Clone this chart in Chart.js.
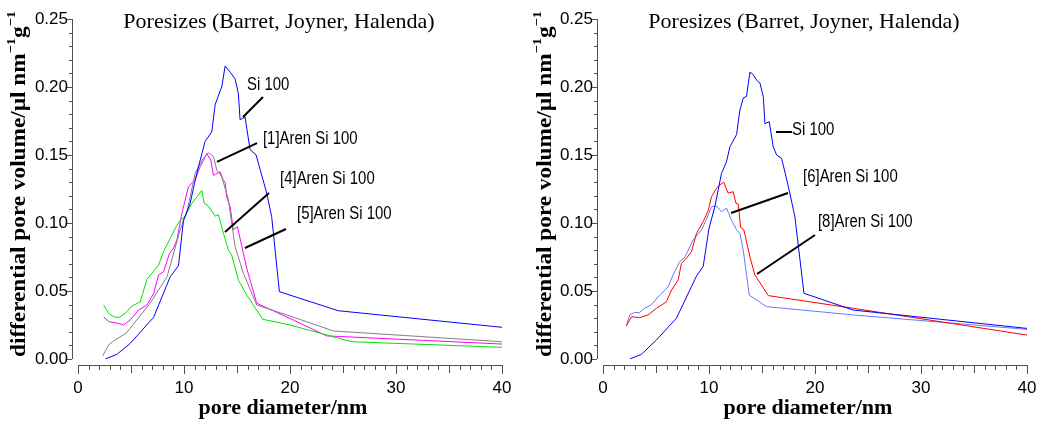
<!DOCTYPE html>
<html>
<head>
<meta charset="utf-8">
<script src="https://cdn.jsdelivr.net/npm/chart.js@4/dist/chart.umd.min.js"></script>
<style>
  body { margin: 0; background: #fff; }
  .box { position: absolute; top: 0; width: 526px; height: 423px; }
</style>
</head>
<body>
<div class="box" style="left:0"><canvas id="leftChart" width="526" height="423"></canvas></div>
<div class="box" style="left:526px"><canvas id="rightChart" width="526" height="423"></canvas></div>
<script>
// axis ticks
const xTickLabels = ['0', '10', '20', '30', '40'];
const yTickLabels = ['0.00', '0.05', '0.10', '0.15', '0.20', '0.25'];

// left panel
const leftSiX = [2.57,3.67,4.93,7.13,8.7,9.48,9.95,10.58,11.2,11.99,12.62,12.94,13.4,13.56,13.88,14.35,14.82,15.13,15.29,15.76,16.23,16.8,17.8,18.27,19.0,24.55,40];
const leftSiY = [0,0.0034,0.0115,0.0306,0.0605,0.0686,0.102,0.1145,0.1365,0.16,0.167,0.187,0.197,0.2,0.2154,0.211,0.206,0.195,0.176,0.178,0.154,0.15,0.122,0.1047,0.0495,0.0355,0.0233];

const aren1X = [2.32,2.89,3.5,4.55,6.8,8.4,9.64,10.27,11.05,11.68,12.3,12.78,13.09,13.56,14.19,14.82,15.6,16.86,20,24.1,40];
const aren1Y = [0.0022,0.0103,0.014,0.019,0.041,0.0605,0.095,0.108,0.1365,0.146,0.1517,0.149,0.139,0.134,0.117,0.0826,0.063,0.0397,0.0316,0.0206,0.0127];

const aren5X = [2.42,2.89,3.83,4.3,4.93,5.71,6.5,7.13,7.6,8.07,8.63,9.0,9.33,9.8,10.42,11.05,11.52,12.15,12.53,12.78,13.4,13.7,13.88,14.03,14.35,14.66,15.04,15.92,16.86,20.3,23.45,40];
const aren5Y = [0.0311,0.0275,0.0262,0.025,0.0287,0.036,0.0397,0.048,0.0618,0.0642,0.0777,0.0814,0.0875,0.107,0.1267,0.1316,0.1414,0.151,0.1463,0.135,0.1377,0.1316,0.13,0.119,0.112,0.095,0.0973,0.0667,0.041,0.0287,0.017,0.011];

const aren4X = [2.42,2.89,3.36,3.83,4.46,5.1,5.87,6.5,7.6,8.07,8.7,9.26,9.64,10.1,10.74,11.2,11.68,11.9,12.3,12.94,13.25,13.72,14.19,14.5,15.13,15.92,17.43,20,25.8,40];
const aren4Y = [0.0397,0.0336,0.0311,0.0304,0.0336,0.039,0.042,0.0586,0.069,0.079,0.0887,0.0973,0.102,0.1047,0.1145,0.119,0.124,0.1145,0.1125,0.105,0.106,0.0924,0.08,0.0765,0.058,0.047,0.0292,0.025,0.0127,0.0086];

// right panel
const rightSiX = [2.52,3.62,5.04,6.93,8.82,9.45,10.0,10.55,11.18,11.65,11.97,12.6,12.91,13.23,13.54,13.86,14.17,14.49,14.8,15.12,15.28,15.68,16.06,16.38,16.85,17.48,18.1,18.96,23.6,40];
const rightSiY = [0,0.0034,0.014,0.03,0.061,0.068,0.096,0.112,0.1365,0.145,0.156,0.165,0.183,0.192,0.193,0.211,0.209,0.205,0.203,0.193,0.173,0.1745,0.156,0.15,0.1475,0.127,0.1047,0.0483,0.036,0.0225];

const aren8X = [2.2,2.68,3.46,4.25,5.04,5.98,6.46,7.09,7.4,7.87,8.35,8.82,9.45,9.92,10.24,10.71,11.02,11.4,11.8,12.28,12.54,12.76,12.98,13.29,13.86,14.33,15.6,23.6,40];
const aren8Y = [0.0243,0.0311,0.0304,0.0324,0.0373,0.042,0.0507,0.058,0.0703,0.074,0.079,0.0924,0.101,0.109,0.1194,0.1255,0.128,0.13,0.122,0.123,0.1145,0.114,0.0968,0.095,0.0752,0.0618,0.0466,0.0373,0.0176];

const aren6X = [2.2,2.52,3.0,3.4,3.94,4.57,5.35,6.14,6.61,7.24,7.72,8.5,9.29,9.76,10.24,10.71,11.18,11.65,12.13,12.6,12.91,13.23,13.8,15.43,23.6,40];
const aren6Y = [0.0243,0.0324,0.0343,0.034,0.0373,0.04,0.047,0.053,0.0618,0.0716,0.0748,0.0875,0.0949,0.1027,0.112,0.1125,0.1083,0.111,0.102,0.095,0.0924,0.08,0.047,0.0385,0.0324,0.0218];

// callouts: text, text anchor, line start, line end (data units)
const leftNotes = [
  ['Si 100', 15.94, 0.2015, 17.45, 0.1926, 15.57, 0.1779],
  ['[1]Aren Si 100', 17.45, 0.1618, 16.89, 0.1588, 13.11, 0.1449],
  ['[4]Aren Si 100', 19.06, 0.1324, 18.02, 0.1221, 13.87, 0.0934],
  ['[5]Aren Si 100', 20.66, 0.1066, 19.62, 0.0956, 15.75, 0.0816]
];
const rightNotes = [
  ['Si 100', 17.83, 0.1684, 16.32, 0.1669, 17.83, 0.1669],
  ['[6]Aren Si 100', 18.87, 0.1338, 17.45, 0.1221, 12.08, 0.1074],
  ['[8]Aren Si 100', 20.28, 0.1007, 20.0, 0.0912, 14.53, 0.0625]
];

function pts(xs, ys) {
  return xs.map((x, i) => ({ x: x, y: ys[i] }));
}
function series(xs, ys, color) {
  return { data: pts(xs, ys), borderColor: color, borderWidth: 1, pointRadius: 0, tension: 0, fill: false };
}

const axesPlugin = {
  id: 'oldAxes',
  afterDraw(chart) {
    const ctx = chart.ctx;
    const xs = chart.scales.x, ys = chart.scales.y;
    const opt = chart.options.plugins.oldAxes;
    const axX = xs.getPixelForValue(0) - 6;
    const axY = ys.getPixelForValue(0) + 6;
    ctx.save();
    ctx.strokeStyle = '#505050';
    ctx.lineWidth = 1;
    ctx.beginPath();
    ctx.moveTo(axX + 0.5, ys.getPixelForValue(0));
    ctx.lineTo(axX + 0.5, ys.getPixelForValue(0.25));
    ctx.moveTo(xs.getPixelForValue(0), axY + 0.5);
    ctx.lineTo(xs.getPixelForValue(40), axY + 0.5);
    for (let i = 0; i <= 25; i++) {
      const py = Math.round(ys.getPixelForValue(i / 100)) + 0.5;
      ctx.moveTo(axX, py);
      ctx.lineTo(axX - (i % 5 === 0 ? 5 : 3), py);
    }
    for (let i = 0; i <= 40; i++) {
      const px = Math.round(xs.getPixelForValue(i)) + 0.5;
      ctx.moveTo(px, axY);
      ctx.lineTo(px, axY + (i % 10 === 0 ? 9 : (i % 5 === 0 ? 8 : 5)));
    }
    ctx.stroke();

    ctx.fillStyle = '#000';
    ctx.font = '17px "Liberation Sans", Arial, sans-serif';
    ctx.textAlign = 'right';
    ctx.textBaseline = 'middle';
    yTickLabels.forEach((t) => ctx.fillText(t, axX - 4, ys.getPixelForValue(parseFloat(t))));
    ctx.textAlign = 'center';
    xTickLabels.forEach((t) => ctx.fillText(t, xs.getPixelForValue(parseFloat(t)), 388));

    ctx.font = '22px "Liberation Serif", "Times New Roman", serif';
    ctx.fillText('Poresizes (Barret, Joyner, Halenda)', opt.titleX, 22);
    ctx.font = 'bold 22px "Liberation Serif", "Times New Roman", serif';
    ctx.fillText('pore diameter/nm', opt.xTitleX, 408);

    // rotated y title with superscripts, stretched to the reference length
    ctx.translate(20, 184);
    ctx.rotate(-Math.PI / 2);
    const big = 'bold 21px "Liberation Serif", "Times New Roman", serif';
    const sup = 'bold 13px "Liberation Serif", "Times New Roman", serif';
    const parts = [['differential pore volume/\u00b5l nm', big, 0], ['\u22121', sup, -8], ['g', big, 0], ['\u22121', sup, -8]];
    let total = 0;
    parts.forEach((p) => { ctx.font = p[1]; total += ctx.measureText(p[0]).width; });
    ctx.scale(346 / total, 1);
    let cx = -total / 2;
    ctx.textAlign = 'left';
    parts.forEach((p) => {
      ctx.font = p[1];
      ctx.fillText(p[0], cx, p[2]);
      cx += ctx.measureText(p[0]).width;
    });
    ctx.restore();

    // callouts
    ctx.save();
    ctx.strokeStyle = '#000';
    ctx.lineWidth = 2;
    ctx.fillStyle = '#000';
    ctx.font = '18px "Liberation Sans", Arial, sans-serif';
    ctx.textAlign = 'left';
    ctx.textBaseline = 'middle';
    opt.notes.forEach((n) => {
      const tx = xs.getPixelForValue(n[1]);
      ctx.save();
      ctx.translate(tx, ys.getPixelForValue(n[2]));
      ctx.scale(0.83, 1);
      ctx.fillText(n[0], 0, 0);
      ctx.restore();
      ctx.beginPath();
      ctx.moveTo(xs.getPixelForValue(n[3]), ys.getPixelForValue(n[4]));
      ctx.lineTo(xs.getPixelForValue(n[5]), ys.getPixelForValue(n[6]));
      ctx.stroke();
    });
    ctx.restore();
  }
};

function makeChart(id, datasets, padLeft, notes, titleX, xTitleX) {
  return new Chart(document.getElementById(id), {
    type: 'line',
    data: { datasets: datasets },
    options: {
      responsive: false,
      animation: false,
      layout: { padding: { left: padLeft, right: 526 - padLeft - 424, top: 19, bottom: 64 } },
      scales: {
        x: { type: 'linear', min: 0, max: 40, display: false },
        y: { type: 'linear', min: 0, max: 0.25, display: false }
      },
      plugins: {
        legend: { display: false },
        tooltip: { enabled: false },
        oldAxes: { notes: notes, titleX: titleX, xTitleX: xTitleX }
      }
    },
    plugins: [axesPlugin]
  });
}

makeChart('leftChart', [
  series(leftSiX, leftSiY, '#0000ff'),
  series(aren1X, aren1Y, '#808080'),
  series(aren4X, aren4Y, '#00e000'),
  series(aren5X, aren5Y, '#ff00ff')
], 78, leftNotes, 279, 283);

makeChart('rightChart', [
  series(rightSiX, rightSiY, '#0000ff'),
  series(aren8X, aren8Y, '#ff0000'),
  series(aren6X, aren6Y, '#6677ff')
], 77, rightNotes, 278, 282);
</script>
</body>
</html>
